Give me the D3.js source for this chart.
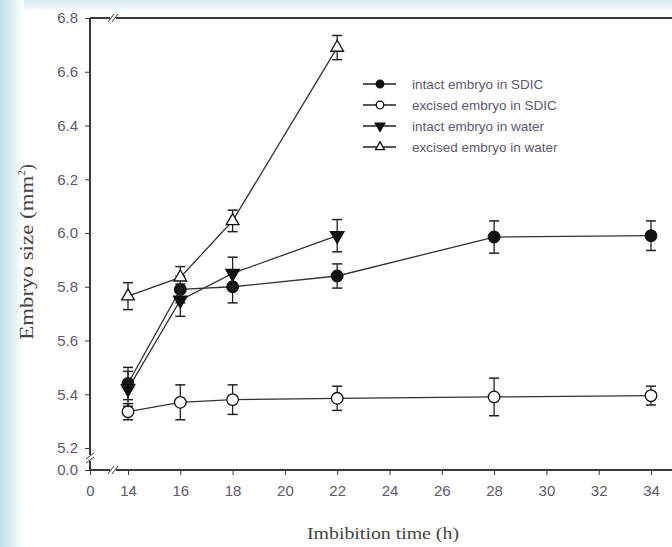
<!DOCTYPE html>
<html>
<head>
<meta charset="utf-8">
<script src="https://cdn.jsdelivr.net/npm/d3@7"></script>
<style>
  body { margin: 0; background: #fff; }
  svg { display: block; }
</style>
</head>
<body>
<div class="chart"></div>
<script>
const hours = [14, 16, 18, 22, 28, 34];
const hoursWater = [14, 16, 18, 22];

const intactSDIC = [5.44, 5.79, 5.80, 5.84, 5.985, 5.99];
const intactSDICErr = [0.06, 0.05, 0.06, 0.045, 0.06, 0.055];
const excisedSDIC = [5.335, 5.37, 5.38, 5.385, 5.39, 5.395];
const excisedSDICErr = [0.03, 0.065, 0.055, 0.045, 0.07, 0.035];
const intactWater = [5.42, 5.75, 5.85, 5.99];
const intactWaterErr = [0.065, 0.06, 0.06, 0.06];
const excisedWater = [5.765, 5.835, 6.045, 6.69];
const excisedWaterErr = [0.05, 0.04, 0.04, 0.045];

const xTicks = [0, 14, 16, 18, 20, 22, 24, 26, 28, 30, 32, 34];
const yTicks = [0, 5.2, 5.4, 5.6, 5.8, 6.0, 6.2, 6.4, 6.6, 6.8];

const series = [
  { name: 'intact embryo  in SDIC', x: hours, y: intactSDIC, e: intactSDICErr, shape: 'circle', fill: '#111' },
  { name: 'excised embryo  in SDIC', x: hours, y: excisedSDIC, e: excisedSDICErr, shape: 'circle', fill: '#fff' },
  { name: 'intact embryo in water', x: hoursWater, y: intactWater, e: intactWaterErr, shape: 'tridown', fill: '#111' },
  { name: 'excised embryo in water', x: hoursWater, y: excisedWater, e: excisedWaterErr, shape: 'triup', fill: '#fff' }
];

const W = 672, H = 547;
const svg = d3.select('.chart').append('svg').attr('width', W).attr('height', H);

// faint blue frame of the screenshot
const defs = svg.append('defs');
const gl = defs.append('linearGradient').attr('id', 'gl');
gl.append('stop').attr('offset', '0%').attr('stop-color', '#bfe0ea');
gl.append('stop').attr('offset', '100%').attr('stop-color', '#ffffff');
const gt = defs.append('linearGradient').attr('id', 'gt').attr('x1', 0).attr('x2', 0).attr('y1', 0).attr('y2', 1);
gt.append('stop').attr('offset', '0%').attr('stop-color', '#d6eaf2');
gt.append('stop').attr('offset', '100%').attr('stop-color', '#ffffff');
svg.append('rect').attr('width', W).attr('height', 12).attr('fill', 'url(#gt)');
svg.append('rect').attr('width', 24).attr('height', H).attr('fill', 'url(#gl)');

const x = d3.scaleLinear().domain([0, 14, 34]).range([90, 128, 651]);
const y = d3.scaleLinear().domain([0, 5.2, 6.8]).range([470, 448, 18]);

const axisCol = '#3a3a3a';
const labCol = '#5e5870';
const sans = 'Liberation Sans, Arial, sans-serif';
const serif = 'Liberation Serif, Times New Roman, serif';

// x axis
const xAxis = svg.append('g').attr('transform', `translate(0,${y(0)})`)
  .call(d3.axisBottom(x).tickValues(xTicks).tickFormat(d3.format('d')).tickSize(5).tickSizeOuter(0));
xAxis.select('.domain').remove();
xAxis.append('line').attr('x1', x(0)).attr('x2', W).attr('stroke', axisCol).attr('stroke-width', 2);
xAxis.selectAll('.tick line').attr('stroke', axisCol);
xAxis.selectAll('.tick text').attr('fill', labCol).attr('font-family', sans)
  .attr('font-size', 15).attr('y', 12).attr('dy', '0.9em');

// y axis
const yAxis = svg.append('g').attr('transform', `translate(${x(0)},0)`)
  .call(d3.axisLeft(y).tickValues(yTicks).tickFormat(d3.format('.1f')).tickSize(5).tickSizeOuter(0));
yAxis.select('.domain').remove();
yAxis.append('line').attr('y1', y(6.8)).attr('y2', y(0)).attr('stroke', axisCol).attr('stroke-width', 2);
yAxis.selectAll('.tick line').attr('stroke', axisCol);
yAxis.selectAll('.tick text').attr('fill', labCol).attr('font-family', sans)
  .attr('font-size', 15).attr('x', -12);

// top frame line
svg.append('line').attr('x1', x(0)).attr('x2', W).attr('y1', y(6.8)).attr('y2', y(6.8))
  .attr('stroke', axisCol).attr('stroke-width', 2);

// axis break marks
function breakMark(cx, cy, vertical) {
  const g = svg.append('g').attr('transform', `translate(${cx},${cy})`);
  g.append('rect').attr('x', vertical ? -4 : -3).attr('y', vertical ? -3 : -4)
    .attr('width', vertical ? 8 : 6).attr('height', vertical ? 6 : 8).attr('fill', '#fff');
  [-2, 2].forEach(o => {
    if (vertical) g.append('line').attr('x1', -4).attr('x2', 4).attr('y1', o + 3).attr('y2', o - 3).attr('stroke', axisCol);
    else g.append('line').attr('x1', o - 3).attr('x2', o + 3).attr('y1', 4).attr('y2', -4).attr('stroke', axisCol);
  });
}
breakMark(113, y(0), false);
breakMark(113, y(6.8), false);
breakMark(x(0), 458, true);

// axis titles
svg.append('text').attr('x', 383).attr('y', 539).attr('text-anchor', 'middle')
  .attr('font-family', serif).attr('font-size', 17).attr('fill', '#444')
  .attr('textLength', 152).attr('lengthAdjust', 'spacingAndGlyphs')
  .text('Imbibition time (h)');
const yt = svg.append('text').attr('transform', `translate(33,252) rotate(-90)`).attr('text-anchor', 'middle')
  .attr('font-family', serif).attr('font-size', 18).attr('fill', '#444');
yt.append('tspan').attr('textLength', 164).attr('lengthAdjust', 'spacingAndGlyphs').text('Embryo size (mm');
yt.append('tspan').attr('dy', -8).attr('font-size', 11).text('2');
yt.append('tspan').attr('dy', 8).text(')');

const sym = {
  circle: d3.symbol().type(d3.symbolCircle).size(105),
  triup: d3.symbol().type(d3.symbolTriangle).size(70),
  tridown: d3.symbol().type(d3.symbolTriangle).size(80)
};
const symSmall = {
  circle: d3.symbol().type(d3.symbolCircle).size(45),
  triup: d3.symbol().type(d3.symbolTriangle).size(35),
  tridown: d3.symbol().type(d3.symbolTriangle).size(40)
};
function drawSymbol(g, s, px, py, set) {
  g.append('path').attr('d', (set || sym)[s.shape]())
    .attr('transform', `translate(${px},${py})` + (s.shape === 'tridown' ? ' rotate(180)' : ''))
    .attr('fill', s.fill).attr('stroke', '#111').attr('stroke-width', 1.3);
}

const line = d3.line().x(d => x(d[0])).y(d => y(d[1]));
const plot = svg.append('g');
series.forEach(s => {
  const pts = s.x.map((h, i) => [h, s.y[i], s.e[i]]);
  plot.append('path').datum(pts).attr('d', line).attr('fill', 'none').attr('stroke', '#333').attr('stroke-width', 1.3);
});
series.forEach(s => {
  const g = plot.append('g');
  s.x.forEach((h, i) => {
    const px = x(h), lo = y(s.y[i] - s.e[i]), hi = y(s.y[i] + s.e[i]);
    g.append('line').attr('x1', px).attr('x2', px).attr('y1', lo).attr('y2', hi).attr('stroke', '#222').attr('stroke-width', 1.3);
    [lo, hi].forEach(v => g.append('line').attr('x1', px - 5).attr('x2', px + 5).attr('y1', v).attr('y2', v)
      .attr('stroke', '#222').attr('stroke-width', 1.5));
  });
  s.x.forEach((h, i) => drawSymbol(g, s, x(h), y(s.y[i])));
});

// legend
const leg = svg.append('g').attr('transform', 'translate(363,84)');
series.forEach((s, i) => {
  const g = leg.append('g').attr('transform', `translate(0,${i * 21})`);
  g.append('line').attr('x1', 0).attr('x2', 33).attr('stroke', '#222').attr('stroke-width', 1.3);
  drawSymbol(g, s, 17, 0, symSmall);
  g.append('text').attr('x', 49).attr('y', 5).attr('font-family', sans)
    .attr('font-size', 13.5).attr('fill', labCol).text(s.name);
});
</script>
</body>
</html>
